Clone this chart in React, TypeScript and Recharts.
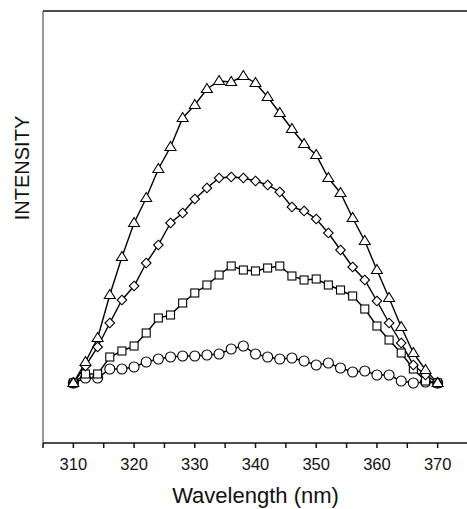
import React from 'react';
import { LineChart, Line, XAxis, YAxis, ReferenceLine, Label } from 'recharts';

// emission wavelengths (nm), one reading every 2 nm
const wavelengths = [
  310, 312, 314, 316, 318, 320, 322, 324, 326, 328, 330, 332, 334, 336, 338, 340,
  342, 344, 346, 348, 350, 352, 354, 356, 358, 360, 362, 364, 366, 368, 370,
];

// intensity, arbitrary units
const triangles = [
  60, 81, 105, 148, 186, 220, 245, 274, 296, 325, 338, 354, 362, 361, 367, 360,
  346, 330, 314, 299, 288, 265, 250, 225, 202, 173, 145, 116, 90, 73, 60,
];
const diamonds = [
  60, 77, 96, 120, 143, 157, 180, 198, 220, 230, 244, 255, 265, 266, 265, 262,
  258, 251, 236, 232, 224, 210, 193, 176, 163, 142, 120, 100, 78, 68, 60,
];
const squares = [
  60, 69, 69, 86, 92, 97, 110, 125, 128, 140, 150, 158, 168, 177, 173, 172,
  175, 177, 167, 163, 164, 158, 153, 147, 134, 117, 103, 90, 74, 62, 60,
];
const circles = [
  60, 65, 65, 74, 74, 76, 81, 84, 86, 87, 87, 88, 89, 94, 97, 89,
  86, 84, 85, 82, 78, 80, 75, 71, 72, 68, 68, 62, 60, 61, 60,
];

const xTicks = [305, 310, 315, 320, 325, 330, 335, 340, 345, 350, 355, 360, 365, 370, 375];

const data = wavelengths.map((w, i) => ({
  w,
  tri: triangles[i],
  dia: diamonds[i],
  sq: squares[i],
  circ: circles[i],
}));

const FONT = '"Liberation Sans", Arial, sans-serif';

const triangleDot = (p: any) => (
  <path
    key={p.key}
    d={`M${p.cx},${p.cy - 5.5} L${p.cx + 5.5},${p.cy + 3.5} L${p.cx - 5.5},${p.cy + 3.5} Z`}
    fill="#fff"
    stroke="#000"
    strokeWidth={1.1}
  />
);

const diamondDot = (p: any) => (
  <path
    key={p.key}
    d={`M${p.cx},${p.cy - 4.8} L${p.cx + 4.8},${p.cy} L${p.cx},${p.cy + 4.8} L${p.cx - 4.8},${p.cy} Z`}
    fill="#fff"
    stroke="#000"
    strokeWidth={1.1}
  />
);

const squareDot = (p: any) => (
  <rect key={p.key} x={p.cx - 4} y={p.cy - 4} width={8} height={8} fill="#fff" stroke="#000" strokeWidth={1.1} />
);

const circleDot = (p: any) => (
  <circle key={p.key} cx={p.cx} cy={p.cy} r={5} fill="#fff" stroke="#000" strokeWidth={1.1} />
);

export default function App() {
  return (
    <div
      style={{
        position: 'fixed',
        left: 0,
        top: 0,
        width: 467,
        height: 509,
        overflow: 'hidden',
        background: '#fff',
      }}
    >
      <LineChart width={480} height={509} data={data} margin={{ top: 11, right: 12, bottom: 0, left: 0 }}>
        <XAxis
          dataKey="w"
          type="number"
          domain={[305, 375]}
          ticks={xTicks}
          interval={0}
          tickFormatter={(v: number) => (v % 10 === 0 ? String(v) : '')}
          height={66}
          tickSize={5}
          tickMargin={10}
          stroke="#111"
          strokeWidth={1.5}
          tick={{ fill: '#111', fontSize: 16.5, fontFamily: FONT }}
        >
          <Label
            value="Wavelength (nm)"
            position="insideBottom"
            offset={6}
            style={{ fill: '#111', fontSize: 22, fontFamily: FONT }}
          />
        </XAxis>
        <YAxis
          type="number"
          domain={[0, 432]}
          width={43}
          tick={false}
          tickLine={false}
          stroke="#333"
          label={{
            content: () => (
              <text
                x={22}
                y={168}
                transform="rotate(-90, 22, 168)"
                textAnchor="middle"
                dominantBaseline="central"
                fill="#111"
                fontSize={20}
                fontFamily={FONT}
              >
                INTENSITY
              </text>
            ),
          }}
        />
        <ReferenceLine y={432} stroke="#111" strokeWidth={1.5} />
        <Line dataKey="circ" type="linear" stroke="#000" strokeWidth={1.4} dot={circleDot} isAnimationActive={false} />
        <Line dataKey="sq" type="linear" stroke="#000" strokeWidth={1.4} dot={squareDot} isAnimationActive={false} />
        <Line dataKey="dia" type="linear" stroke="#000" strokeWidth={1.4} dot={diamondDot} isAnimationActive={false} />
        <Line dataKey="tri" type="linear" stroke="#000" strokeWidth={1.4} dot={triangleDot} isAnimationActive={false} />
      </LineChart>
    </div>
  );
}
